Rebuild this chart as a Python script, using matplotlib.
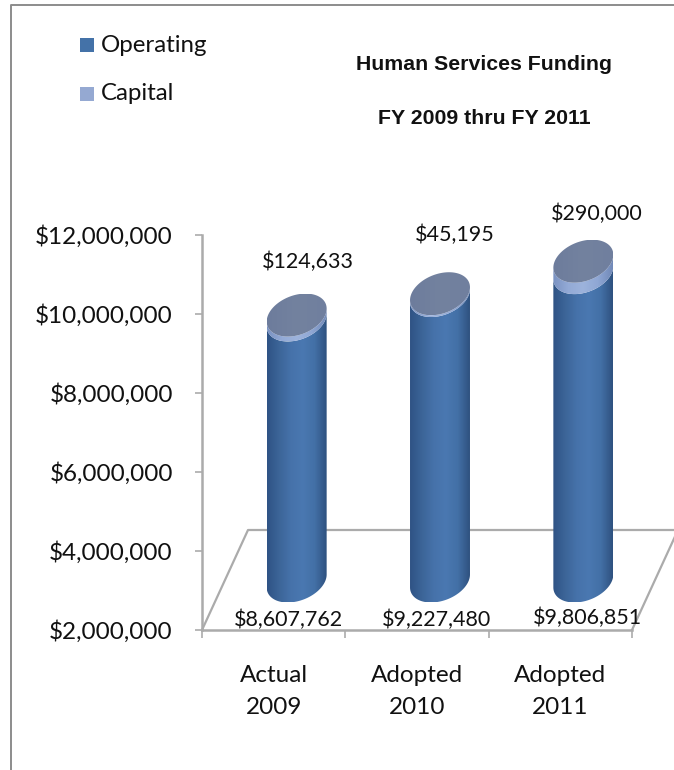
import numpy as np
import matplotlib
matplotlib.use('Agg')
import matplotlib.pyplot as plt
from matplotlib.colors import LinearSegmentedColormap
from matplotlib.lines import Line2D
from matplotlib.patches import Polygon, Rectangle

# Values
categories = ['Actual\n2009', 'Adopted\n2010', 'Adopted\n2011']
operating = [8607762, 9227480, 9806851]
capital = [124633, 45195, 290000]
y_ticks = [2000000, 4000000, 6000000, 8000000, 10000000, 12000000]
title_lines = ['Human Services Funding', 'FY 2009 thru FY 2011']

W, H = 674, 770
BODY_FONT = 'Lato'
GREY = '#ababab'

fig = plt.figure(figsize=(W / 100, H / 100), dpi=100)
ax = fig.add_axes([202 / W, (H - 630) / H, 430 / W, 395 / H])
ax.set_xlim(-0.5, 2.5)
ax.set_ylim(2000000, 12000000)

# pixel -> data scale, the fake 3d is all done in pixels
px_x = 3 / 430
px_y = 10000000 / 395
depth_x = 23 * px_x
depth_y = 49 * px_y
SHEAR = 9.0
RX = 28.6
RY = 21.5


def ring(i, value, t):
    # circle lying on the sheared floor
    x = i + depth_x + (RX * np.cos(t) + SHEAR * np.sin(t)) * px_x
    y = value + depth_y + RY * np.sin(t) * px_y
    return np.column_stack([x, y])


def fill_gradient(i, outline, cmap, zorder):
    # horizontal gradient clipped to the outline
    patch = Polygon(outline, closed=True, transform=ax.transData, fc='none', ec='none')
    ax.add_patch(patch)
    half = np.hypot(RX, SHEAR)
    left = i + depth_x - half * px_x
    right = i + depth_x + half * px_x
    grad = np.linspace(0, 1, 120).reshape(1, -1)
    im = ax.imshow(grad, cmap=cmap, aspect='auto', zorder=zorder,
                   extent=[left, right, outline[:, 1].min(), outline[:, 1].max()])
    im.set_clip_path(patch)


def side(i, low, high):
    t0 = np.arctan2(SHEAR, RX)
    lower = np.linspace(t0, t0 - np.pi, 80)
    return np.vstack([ring(i, low, lower), ring(i, high, lower[::-1])])


op_cmap = LinearSegmentedColormap.from_list('op', ['#2f5385', '#3c6598', '#4672aa', '#4a78b1', '#4370a6', '#2f5280'])
cap_cmap = LinearSegmentedColormap.from_list('cap', ['#7a92c2', '#93aad6', '#9db3dc', '#8fa7d4', '#7189b8'])
top_cmap = LinearSegmentedColormap.from_list('top', ['#6d7c9c', '#73829f', '#707f9e'])

for i, (op, cap) in enumerate(zip(operating, capital)):
    total = op + cap
    fill_gradient(i, side(i, 2000000, op), op_cmap, 3)
    fill_gradient(i, side(i, op, total), cap_cmap, 3.1)
    fill_gradient(i, ring(i, total, np.linspace(0, 2 * np.pi, 120)), top_cmap, 3.2)

ax.set_xlim(-0.5, 2.5)
ax.set_ylim(2000000, 12000000)

# floor
floor_x = [-0.5, -0.5 + 46 * px_x, 2.5 + 46 * px_x, 2.5]
floor_y = [2000000, 2000000 + 100 * px_y, 2000000 + 100 * px_y, 2000000]
ax.plot(floor_x, floor_y, color=GREY, lw=1.6, clip_on=False, zorder=1)

for s in ['top', 'right']:
    ax.spines[s].set_visible(False)
for s in ['left', 'bottom']:
    ax.spines[s].set_color(GREY)
    ax.spines[s].set_linewidth(1.8)

ax.set_yticks(y_ticks)
ax.set_yticklabels(['${:,}'.format(v) for v in y_ticks], fontfamily=BODY_FONT, fontsize=17.5, color='#111111')
ax.tick_params(axis='y', color=GREY, length=5, width=1.2, pad=16)
ax.set_xticks([-0.5, 0.5, 1.5, 2.5])
ax.set_xticklabels([])
ax.tick_params(axis='x', which='major', color=GREY, length=6, width=1.2)
ax.set_xticks([0, 1, 2], minor=True)
ax.set_xticklabels(categories, minor=True, fontfamily=BODY_FONT, fontsize=17.5, linespacing=1.65, color='#111111')
ax.tick_params(axis='x', which='minor', length=0, pad=25)


def px_text(x, y, s, **kw):
    fig.text(x / W, 1 - y / H, s, va='center', color='#111111', **kw)


# data labels sit by hand like in the original
for x, y, v in zip([308, 455, 597], [262, 235, 214], capital):
    px_text(x, y, '${:,}'.format(v), ha='center', family=BODY_FONT, fontsize=15.5, zorder=6)
for x, y, v in zip([288, 437, 587], [620, 620, 618], operating):
    px_text(x, y, '${:,}'.format(v), ha='center', family=BODY_FONT, fontsize=15.5, zorder=6)

# title
for y, line in zip([65, 118], title_lines):
    px_text(484, y, line, ha='center', family='Liberation Sans', fontweight='bold', fontsize=15.3)

# legend
for y, color, label in zip([45, 94], ['#4472a8', '#95a9d2'], ['Operating', 'Capital']):
    fig.add_artist(Rectangle((80 / W, 1 - (y + 7) / H), 14 / W, 14 / H, transform=fig.transFigure, fc=color, ec='none'))
    px_text(101, y, label, ha='left', family=BODY_FONT, fontsize=17.3)

# outer frame, only top and left show
fig.add_artist(Line2D([11 / W, 11 / W, 1], [0, 1 - 5 / H, 1 - 5 / H], transform=fig.transFigure, color='#8c8c8c', lw=1.4))

fig.savefig('out.png', dpi=100)
